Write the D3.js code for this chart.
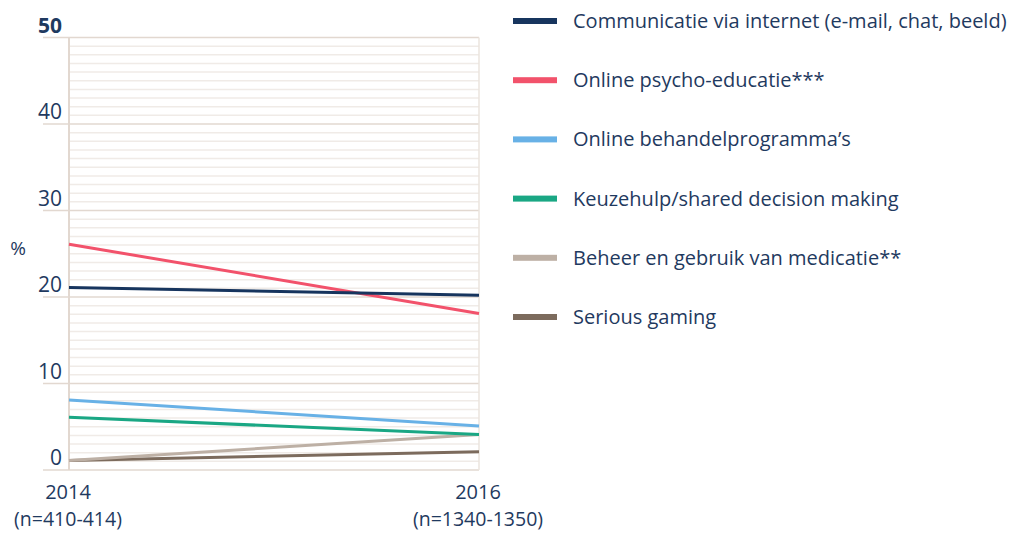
<!DOCTYPE html>
<html>
<head>
<meta charset="utf-8">
<script src="https://cdn.jsdelivr.net/npm/d3@7"></script>
<style>
  body { margin: 0; background: #fff; }
  svg { display: block; font-family: "Open Sans", sans-serif; }
</style>
</head>
<body>
<svg id="chart" width="1015" height="533"></svg>
<script>
// Jaren en steekproefgroottes
const years = ['2014', '2016'];
const sampleLabels = ['(n=410-414)', '(n=1340-1350)'];

// Series (percentages)
const seriesNames = [
    'Communicatie via internet (e-mail, chat, beeld)',
    'Online psycho-educatie***',
    'Online behandelprogramma\u2019s',
    'Keuzehulp/shared decision making',
    'Beheer en gebruik van medicatie**',
    'Serious gaming'
];
const values2014 = [21.1, 26.1, 8.1, 6.1, 1.1, 1.1];
const values2016 = [20.2, 18.1, 5.1, 4.1, 4.1, 2.1];

const yTicks = [0, 10, 20, 30, 40, 50];

const colors = ['#17355e', '#f2526b', '#68b1e6', '#1aa784', '#bdb0a5', '#7c6b5d'];
const textColor = '#1f3a60';

const svg = d3.select('#chart');

const x = d3.scalePoint()
    .domain(years)
    .range([69, 479]);

const y = d3.scaleLinear()
    .domain([0, 50])
    .range([470, 37.5]);

const g = svg.append('g');

// minor gridlines every 1%
g.selectAll('.minor')
    .data(d3.range(1, 50).filter(v => v % 10 !== 0))
    .enter()
    .append('line')
    .attr('x1', x('2014'))
    .attr('x2', x('2016'))
    .attr('y1', d => y(d))
    .attr('y2', d => y(d))
    .attr('stroke', '#f0ebe7')
    .attr('stroke-width', 1.5);

// major gridlines
g.selectAll('.major')
    .data(yTicks)
    .enter()
    .append('line')
    .attr('x1', 43)
    .attr('x2', x('2016'))
    .attr('y1', d => y(d))
    .attr('y2', d => y(d))
    .attr('stroke', '#e2d8d0')
    .attr('stroke-width', 1.5);

// vertical frame lines
[x('2014'), x('2016')].forEach((xv, i) => {
    g.append('line')
        .attr('x1', xv).attr('x2', xv)
        .attr('y1', y(50)).attr('y2', y(0))
        .attr('stroke', i === 0 ? '#e2d8d0' : '#ebe4de')
        .attr('stroke-width', i === 0 ? 2 : 1.5);
});

// y tick labels
g.selectAll('.ylab')
    .data(yTicks)
    .enter()
    .append('text')
    .attr('x', 62)
    .attr('y', d => y(d) - 5)
    .attr('text-anchor', 'end')
    .style('font-size', '21px')
    .style('font-weight', d => d === 50 ? 700 : 400)
    .style('fill', textColor)
    .text(d => d);

g.append('text')
    .attr('x', 18)
    .attr('y', 255)
    .attr('text-anchor', 'middle')
    .style('font-size', '19px')
    .style('fill', textColor)
    .text('%');

// x labels
years.forEach((yr, i) => {
    g.append('text')
        .attr('x', x(yr) - 1)
        .attr('y', 499)
        .attr('text-anchor', 'middle')
        .style('font-size', '20px')
        .style('fill', textColor)
        .text(yr);
    g.append('text')
        .attr('x', x(yr) - 1)
        .attr('y', 526)
        .attr('text-anchor', 'middle')
        .style('font-size', '19.5px')
        .style('fill', textColor)
        .text(sampleLabels[i]);
});

// lines (draw from back to front)
const line = d3.line()
    .x(d => x(d.year))
    .y(d => y(d.value));

const order = [5, 4, 3, 2, 1, 0];
order.forEach(i => {
    const pts = [
        { year: '2014', value: values2014[i] },
        { year: '2016', value: values2016[i] }
    ];
    g.append('path')
        .datum(pts)
        .attr('fill', 'none')
        .attr('stroke', colors[i])
        .attr('stroke-width', 3)
        .attr('d', line);
});

// legend
const legend = g.selectAll('.legend')
    .data(seriesNames)
    .enter()
    .append('g')
    .attr('transform', (d, i) => `translate(513,${21 + i * 59.2})`);

legend.append('rect')
    .attr('x', 0)
    .attr('y', -3)
    .attr('width', 44)
    .attr('height', 6)
    .attr('fill', (d, i) => colors[i]);

legend.append('text')
    .attr('x', 60)
    .attr('y', 7)
    .style('font-size', '20px')
    .style('fill', textColor)
    .text(d => d);
</script>
</body>
</html>
